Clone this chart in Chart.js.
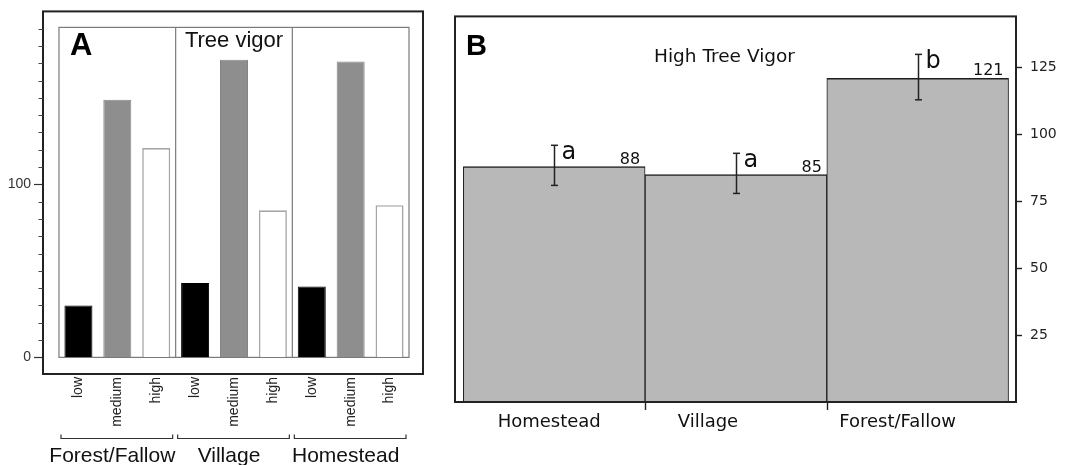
<!DOCTYPE html>
<html><head><meta charset="utf-8">
<script src="https://cdn.jsdelivr.net/npm/chart.js@4.4.1/dist/chart.umd.min.js"></script>
<style>
html,body{margin:0;padding:0;background:#fff;overflow:hidden}
#wrap{position:relative;width:1075px;height:465px;background:#fff}
canvas{position:absolute;top:0}
#cA{left:0}
#cB{left:430px}
</style></head><body>
<div id="wrap"><canvas id="cA" width="430" height="465"></canvas><canvas id="cB" width="645" height="465"></canvas></div>
<script>
// ---------- Panel A data ----------
const sitesA = ['Forest/Fallow', 'Village', 'Homestead'];
const vigorLevels = ['low', 'medium', 'high'];
const lowCounts = [30, 43, 41];
const mediumCounts = [149, 172, 171];
const highCounts = [121, 85, 88];
const yLabelTicksA = [0, 100];
const yMinorStepA = 10;
const yTopTickA = 190;

// ---------- Panel B data ----------
const sitesB = ['Homestead', 'Village', 'Forest/Fallow'];
const highVigorB = [88, 85, 121];
const errLowB = [81, 78, 113];
const errHighB = [96, 93, 130];
const sigLetters = ['a', 'a', 'b'];
const yTicksB = [25, 50, 75, 100, 125];

Chart.defaults.animation = false;
Chart.defaults.events = [];
Chart.defaults.plugins.legend.display = false;
Chart.defaults.plugins.tooltip.enabled = false;

// ---------- Panel A ----------
const countsByLevel = [lowCounts, mediumCounts, highCounts];
const subLabelsA = [];
sitesA.forEach(() => vigorLevels.forEach(v => subLabelsA.push(v)));
const styleA = [
  {bg: '#000000', bd: '#000000', bw: 1},
  {bg: '#8e8e8e', bd: '#858585', bw: 1},
  {bg: '#ffffff', bd: '#a6a6a6', bw: 1.6}
];
const datasetsA = vigorLevels.map((lvl, j) => ({
  label: lvl,
  data: sitesA.map((s, i) => ({x: i * vigorLevels.length + j, y: countsByLevel[j][i]})),
  backgroundColor: styleA[j].bg,
  borderColor: styleA[j].bd,
  borderWidth: styleA[j].bw,
  borderSkipped: 'bottom',
  grouped: false,
  barPercentage: 0.72,
  categoryPercentage: 1
}));
const nA = subLabelsA.length;

function line(ctx, x1, y1, x2, y2) { ctx.beginPath(); ctx.moveTo(x1, y1); ctx.lineTo(x2, y2); ctx.stroke(); }

const panelAPlugin = {
  id: 'panelA',
  beforeDatasetsDraw(chart) {
    const {ctx, chartArea: ca, scales: {x, y}} = chart;
    const l = x.getPixelForValue(-0.5), r = x.getPixelForValue(nA - 0.5);
    const b = y.getPixelForValue(0), t = ca.top + 16;
    ctx.save();
    ctx.strokeStyle = '#7a7a7a'; ctx.lineWidth = 1.2;
    ctx.strokeRect(l, t, r - l, b - t);
    for (let g = 1; g < sitesA.length; g++) {
      const px = x.getPixelForValue(g * 3 - 0.5);
      line(ctx, px, t, px, b);
    }
    ctx.restore();
  },
  afterDraw(chart) {
    const {ctx, chartArea: ca, scales: {x, y}} = chart;
    ctx.save();
    ctx.strokeStyle = '#222'; ctx.lineWidth = 2;
    ctx.strokeRect(ca.left, ca.top, ca.right - ca.left, ca.bottom - ca.top);
    ctx.strokeStyle = '#444'; ctx.lineWidth = 1;
    for (let v = 0; v <= yTopTickA; v += yMinorStepA) {
      if (yLabelTicksA.includes(v)) continue;
      const py = Math.round(y.getPixelForValue(v)) + 0.5;
      line(ctx, ca.left - 4.5, py, ca.left, py);
    }
    ctx.strokeStyle = '#333'; ctx.lineWidth = 1.2;
    ctx.fillStyle = '#111';
    ctx.font = '21px "Liberation Sans", Arial, sans-serif';
    ctx.textAlign = 'center'; ctx.textBaseline = 'alphabetic';
    sitesA.forEach((s, g) => {
      const x0 = x.getPixelForValue(g * 3 - 0.5) + 2;
      const x1 = x.getPixelForValue(g * 3 + 2.5) - 3;
      ctx.beginPath(); ctx.moveTo(x0, 434.5); ctx.lineTo(x0, 438.5); ctx.lineTo(x1, 438.5); ctx.lineTo(x1, 434.5); ctx.stroke();
      ctx.fillText(s, x.getPixelForValue(g * 3 + 1) - 5, 462);
    });
    ctx.textAlign = 'left';
    ctx.font = 'bold 31px "Liberation Sans", Arial, sans-serif';
    ctx.fillStyle = '#000';
    ctx.fillText('A', ca.left + 27, 55);
    ctx.textAlign = 'center';
    ctx.font = '22px "Liberation Sans", Arial, sans-serif';
    ctx.fillStyle = '#111';
    ctx.fillText('Tree vigor', x.getPixelForValue(4), 47);
    ctx.restore();
  }
};

new Chart(document.getElementById('cA'), {
  type: 'bar',
  data: {datasets: datasetsA},
  options: {
    responsive: false,
    devicePixelRatio: 1,
    layout: {padding: {top: 9, right: 7, left: 0, bottom: 0}},
    scales: {
      x: {
        type: 'linear', offset: false,
        min: -0.911, max: 8.86,
        afterBuildTicks: s => { s.ticks = subLabelsA.map((_, i) => ({value: i})); },
        afterFit: s => { s.height = 91; },
        grid: {display: false, drawTicks: false},
        border: {display: false},
        ticks: {
          autoSkip: false, minRotation: 90, maxRotation: 90, padding: 3,
          font: {family: '"Liberation Sans", Arial, sans-serif', size: 14},
          color: '#222',
          callback: (v, i) => subLabelsA[i]
        }
      },
      y: {
        min: -9.6, max: 200,
        afterBuildTicks: s => { const t = []; for (let v = 0; v <= yTopTickA; v += yMinorStepA) t.push({value: v}); s.ticks = t; },
        afterFit: s => { s.width = 43; },
        grid: {
          drawOnChartArea: false, drawTicks: true, tickLength: 9, tickWidth: 1.2,
          tickColor: c => (c.tick && yLabelTicksA.includes(c.tick.value)) ? '#333' : 'rgba(0,0,0,0)'
        },
        border: {display: false},
        ticks: {
          padding: 3, autoSkip: false,
          font: {family: '"Liberation Sans", Arial, sans-serif', size: 14},
          color: '#333',
          callback: v => yLabelTicksA.includes(v) ? String(v) : ''
        }
      }
    }
  },
  plugins: [panelAPlugin]
});

// ---------- Panel B ----------
const labelNudgeB = [-5, -28, -20];
const panelBPlugin = {
  id: 'panelB',
  afterDatasetsDraw(chart) {
    const {ctx, scales: {x, y}} = chart;
    ctx.save();
    ctx.strokeStyle = '#222'; ctx.lineWidth = 1.5;
    highVigorB.forEach((v, i) => {
      const px = Math.round(x.getPixelForValue(i)) + 0.5;
      const yt = y.getPixelForValue(errHighB[i]);
      const yb = y.getPixelForValue(errLowB[i]);
      line(ctx, px, yt, px, yb);
      line(ctx, px - 3.5, yt, px + 3.5, yt);
      line(ctx, px - 3.5, yb, px + 3.5, yb);
      ctx.fillStyle = '#111';
      ctx.textAlign = 'left'; ctx.textBaseline = 'alphabetic';
      ctx.font = '24px "DejaVu Sans", sans-serif';
      ctx.fillText(sigLetters[i], px + 7, yt + 14);
      ctx.textAlign = 'right';
      ctx.font = '16px "DejaVu Sans", sans-serif';
      ctx.fillText(String(v), x.getPixelForValue(i + 0.5) - 5, y.getPixelForValue(v) - 3);
    });
    ctx.restore();
  },
  afterDraw(chart) {
    const {ctx, chartArea: ca, scales: {x}} = chart;
    ctx.save();
    ctx.strokeStyle = '#222'; ctx.lineWidth = 2;
    ctx.strokeRect(ca.left, ca.top, ca.right - ca.left, ca.bottom - ca.top);
    ctx.lineWidth = 1.4;
    for (let i = 0; i < sitesB.length - 1; i++) {
      const px = Math.round(x.getPixelForValue(i + 0.5)) + 0.5;
      line(ctx, px, ca.bottom, px, ca.bottom + 8);
    }
    ctx.fillStyle = '#111';
    ctx.textAlign = 'center'; ctx.textBaseline = 'alphabetic';
    ctx.font = '18px "DejaVu Sans", sans-serif';
    sitesB.forEach((s, i) => ctx.fillText(s, x.getPixelForValue(i) + labelNudgeB[i], ca.bottom + 25));
    ctx.font = '18.5px "DejaVu Sans", sans-serif';
    ctx.fillText('High Tree Vigor', (ca.left + ca.right) / 2 - 11, 61.5);
    ctx.textAlign = 'left';
    ctx.fillStyle = '#000';
    ctx.font = 'bold 29px "Liberation Sans", Arial, sans-serif';
    ctx.fillText('B', ca.left + 11, 55);
    ctx.restore();
  }
};

new Chart(document.getElementById('cB'), {
  type: 'bar',
  data: {
    datasets: [{
      label: 'High Tree Vigor',
      data: sitesB.map((s, i) => ({x: i, y: highVigorB[i]})),
      backgroundColor: '#b8b8b8',
      borderColor: '#1e1e1e',
      borderWidth: {top: 1.5, left: 1, right: 1, bottom: 0},
      borderSkipped: 'bottom',
      barPercentage: 1,
      categoryPercentage: 1
    }]
  },
  options: {
    responsive: false,
    devicePixelRatio: 1,
    layout: {padding: {top: 13, left: 25, right: 0, bottom: 0}},
    scales: {
      x: {
        type: 'linear', offset: false,
        min: -0.546, max: 2.541,
        afterBuildTicks: s => { s.ticks = sitesB.map((_, i) => ({value: i})); },
        afterFit: s => { s.height = 63; },
        grid: {display: false, drawTicks: false},
        border: {display: false},
        ticks: {display: false}
      },
      y: {
        position: 'right',
        min: 0, max: 144.2,
        afterBuildTicks: s => { s.ticks = yTicksB.map(v => ({value: v})); },
        afterFit: s => { s.width = 59; },
        grid: {drawOnChartArea: false, drawTicks: true, tickLength: 6, tickWidth: 1.4, tickColor: '#222'},
        border: {display: false},
        ticks: {
          padding: 8,
          font: {family: '"DejaVu Sans", sans-serif', size: 14},
          color: '#222'
        }
      }
    }
  },
  plugins: [panelBPlugin]
});
</script>
</body></html>
